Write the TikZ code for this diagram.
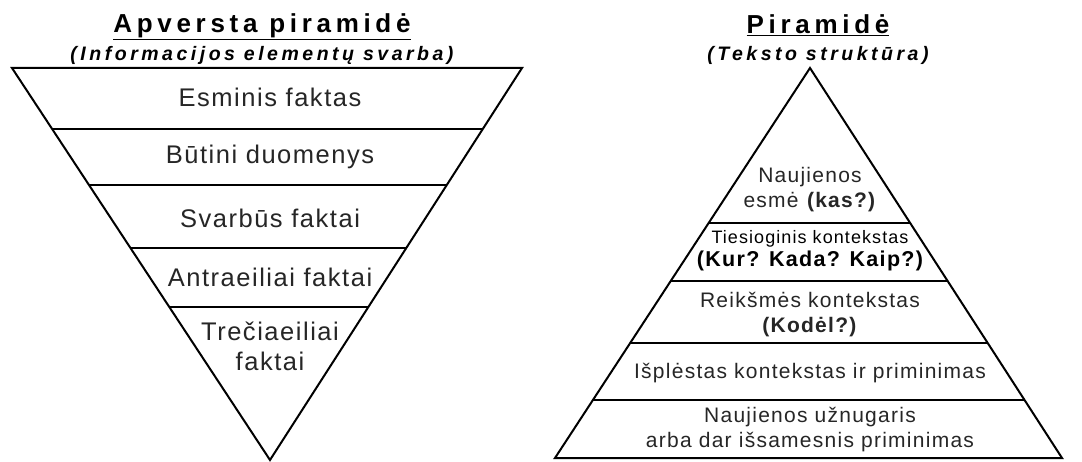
\documentclass[tikz,border=0pt]{standalone}
\usepackage{fontspec}
\setmainfont{Liberation Sans}
\newfontfamily\labfont[LetterSpace=6]{Liberation Sans}
\newfontfamily\ttlfont[LetterSpace=18]{Liberation Sans}
\usetikzlibrary{calc}
\begin{document}
\begin{tikzpicture}[x=1pt,y=-1pt,
  edge/.style={line width=2pt,line join=miter},
  sep/.style={line width=1.5pt},
  big/.style={font=\labfont\fontsize{25.5}{30}\selectfont,align=center,inner sep=0pt,text=black!85},
  mid/.style={font=\labfont\fontsize{21}{25}\selectfont,align=center,inner sep=0pt,text=black!85},
  small/.style={font=\labfont\fontsize{18}{22}\selectfont,align=center,inner sep=0pt,text=black!85},
  ttl/.style={font=\ttlfont\bfseries\fontsize{26}{30}\selectfont,inner sep=0pt},
  sub/.style={font=\ttlfont\bfseries\itshape\fontsize{19.5}{22}\selectfont,inner sep=0pt}]
\useasboundingbox[fill=white] (0,0) rectangle (1082,462);
% left inverted pyramid
\coordinate (LA) at (12,68);
\coordinate (LB) at (522,68);
\coordinate (LC) at (270,460);
\draw[edge] (LA) -- (LB) -- (LC) -- cycle;
\draw[sep] ($(LA)!0.1556!(LC)$) -- ($(LB)!0.1556!(LC)$);
\draw[sep] ($(LA)!0.2985!(LC)$) -- ($(LB)!0.2985!(LC)$);
\draw[sep] ($(LA)!0.459!(LC)$) -- ($(LB)!0.459!(LC)$);
\draw[sep] ($(LA)!0.610!(LC)$) -- ($(LB)!0.610!(LC)$);
\node[ttl] (t1) at (262,27) {\underline{Apversta piramidė}};
\node[sub] (s1) at (262,55) {(Informacijos elementų svarba)};
\node[big] (l1) at (270,97) {Esminis faktas};
\node[big] (l2) at (270,157) {Būtini duomenys};
\node[big] (l3) at (270,218) {Svarbūs faktai};
\node[big] (l4) at (270,277) {Antraeiliai faktai};
\node[big] (l5) at (270,346) {Trečiaeiliai\\faktai};
% right pyramid
\coordinate (RA) at (810,68);
\coordinate (RB) at (555,458);
\coordinate (RC) at (1062,458);
\draw[edge] (RA) -- (RB) -- (RC) -- cycle;
\draw[sep] ($(RA)!0.397!(RB)$) -- ($(RA)!0.397!(RC)$);
\draw[sep] ($(RA)!0.546!(RB)$) -- ($(RA)!0.546!(RC)$);
\draw[sep] ($(RA)!0.705!(RB)$) -- ($(RA)!0.705!(RC)$);
\draw[sep] ($(RA)!0.851!(RB)$) -- ($(RA)!0.851!(RC)$);
\node[ttl] (t2) at (818,25) {\underline{Piramidė}};
\node[sub] (s2) at (818,55) {(Teksto struktūra)};
\node[mid] (r1) at (810,190) {Naujienos\\esmė \textbf{(kas?)}};
\node[small,text=black] (r2) at (810,251) {Tiesioginis kontekstas\\[1pt]{\fontsize{21.5}{24}\selectfont\bfseries (Kur? Kada? Kaip?)}};
\node[mid] (r3) at (810,315) {Reikšmės kontekstas\\\textbf{(Kodėl?)}};
\node[mid] (r4) at (810,373) {Išplėstas kontekstas ir priminimas};
\node[mid] (r5) at (810,430) {Naujienos užnugaris\\arba dar išsamesnis priminimas};
\end{tikzpicture}
\end{document}
